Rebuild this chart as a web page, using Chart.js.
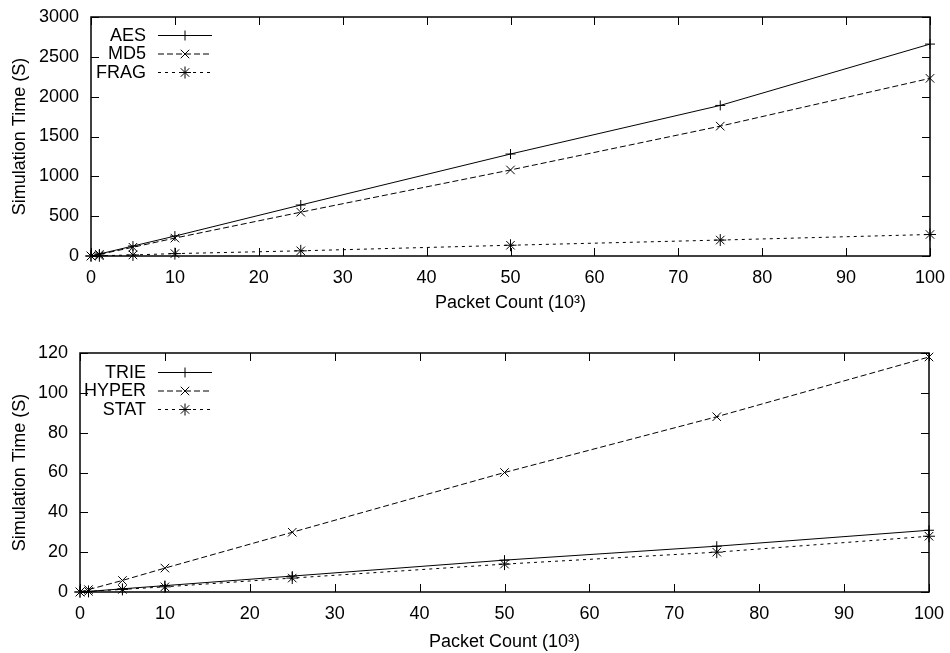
<!DOCTYPE html>
<html>
<head>
    <title>Simulation Time vs Packet Count</title>
    <style>
        body {
            margin: 0;
            background: #fff;
        }
        #wrap {
            position: relative;
            width: 950px;
            height: 653px;
        }
        canvas {
            position: absolute;
            left: 0;
        }
        #topChart { top: 0; }
        #bottomChart { top: 326px; }
    </style>
</head>
<body>
<div id="wrap">
    <canvas id="topChart" width="950" height="326"></canvas>
    <canvas id="bottomChart" width="950" height="327"></canvas>
</div>

<script src="https://cdn.jsdelivr.net/npm/chart.js"></script>

<script>
    // packet count in thousands
    const packets = [0, 1, 5, 10, 25, 50, 75, 100];

    // top plot (seconds)
    const aes  = [0, 25, 125, 250, 640, 1280, 1890, 2660];
    const md5  = [0, 20, 110, 225, 550, 1080, 1630, 2230];
    const frag = [0, 3, 13, 30, 65, 135, 200, 270];

    // bottom plot (seconds)
    const trie  = [0, 0.3, 1.6, 3.2, 8, 16, 23, 31];
    const hyper = [0, 1.2, 5.8, 12, 30, 60, 88, 118];
    const stat  = [0, 0.3, 1.3, 2.6, 7, 14, 20, 28];

    const FONT = { family: '"Liberation Sans", Arial, Helvetica, sans-serif', size: 18 };
    const TICK_LEN = 8;

    // gnuplot-like frame with inward ticks on all four sides
    const framePlugin = {
        id: 'frame',
        afterDatasetsDraw(chart) {
            const { ctx, chartArea: a, scales: { x, y } } = chart;
            ctx.save();
            ctx.strokeStyle = '#000';
            ctx.lineWidth = 1;
            ctx.beginPath();
            x.ticks.forEach(t => {
                const px = Math.round(x.getPixelForValue(t.value)) + 0.5;
                ctx.moveTo(px, a.bottom);
                ctx.lineTo(px, a.bottom - TICK_LEN);
                ctx.moveTo(px, a.top);
                ctx.lineTo(px, a.top + TICK_LEN);
            });
            y.ticks.forEach(t => {
                const py = Math.round(y.getPixelForValue(t.value)) + 0.5;
                ctx.moveTo(a.left, py);
                ctx.lineTo(a.left + TICK_LEN, py);
                ctx.moveTo(a.right, py);
                ctx.lineTo(a.right - TICK_LEN, py);
            });
            ctx.stroke();
            ctx.lineWidth = 1.5;
            ctx.strokeRect(a.left, a.top, a.right - a.left, a.bottom - a.top);
            ctx.restore();
        }
    };

    // key in the top-left corner: right-aligned label, then line sample with marker
    const keyPlugin = {
        id: 'key',
        afterDraw(chart, args, opts) {
            const ctx = chart.ctx;
            ctx.save();
            ctx.font = FONT.size + 'px ' + FONT.family;
            ctx.textAlign = 'right';
            ctx.textBaseline = 'middle';
            chart.data.datasets.forEach((ds, i) => {
                const yy = opts.top + i * opts.rowGap;
                ctx.fillStyle = '#000';
                ctx.fillText(ds.label, opts.textRight, yy + 1);
                ctx.strokeStyle = ds.borderColor;
                ctx.lineWidth = ds.borderWidth;
                ctx.setLineDash(ds.borderDash || []);
                ctx.beginPath();
                ctx.moveTo(opts.lineStart, yy + 0.5);
                ctx.lineTo(opts.lineEnd, yy + 0.5);
                ctx.stroke();
                ctx.setLineDash([]);
                ctx.lineWidth = 1;
                Chart.helpers.drawPoint(ctx, {
                    pointStyle: ds.pointStyle,
                    radius: ds.pointRadius,
                    borderWidth: 1
                }, (opts.lineStart + opts.lineEnd) / 2, yy + 0.5);
            });
            ctx.restore();
        }
    };

    function series(label, data, dash, marker, radius) {
        return {
            label: label,
            data: data.map((v, i) => ({ x: packets[i], y: v })),
            borderColor: '#000',
            backgroundColor: '#000',
            borderWidth: 1,
            borderDash: dash,
            pointStyle: marker,
            pointRadius: radius,
            pointBorderWidth: 1,
            pointBorderColor: '#000',
            fill: false,
            tension: 0,
            clip: false
        };
    }

    function makeChart(id, datasets, yMax, yStep, cfg) {
        return new Chart(document.getElementById(id), {
            type: 'line',
            data: { datasets: datasets },
            plugins: [framePlugin, keyPlugin],
            options: {
                responsive: false,
                animation: false,
                layout: { padding: { top: cfg.padTop, right: cfg.padRight, left: 0, bottom: 0 } },
                plugins: {
                    legend: { display: false },
                    tooltip: { enabled: false },
                    key: cfg.key
                },
                scales: {
                    x: {
                        type: 'linear',
                        min: 0,
                        max: 100,
                        ticks: { stepSize: 10, color: '#000', font: FONT, padding: 3, maxRotation: 0 },
                        grid: { display: false },
                        border: { display: false },
                        title: {
                            display: true,
                            text: 'Packet Count (10³)',
                            color: '#000',
                            font: FONT,
                            padding: { top: 0, bottom: cfg.xTitlePad }
                        },
                        afterFit: s => { s.height = cfg.xHeight; }
                    },
                    y: {
                        min: 0,
                        max: yMax,
                        ticks: {
                            stepSize: yStep, color: '#000', font: FONT, padding: cfg.yTickPad,
                            callback: v => String(v)
                        },
                        grid: { display: false },
                        border: { display: false },
                        title: {
                            display: true,
                            text: 'Simulation Time (S)',
                            color: '#000',
                            font: FONT,
                            padding: { top: 9, bottom: 0 }
                        },
                        afterFit: s => { s.width = cfg.yWidth; }
                    }
                }
            }
        });
    }

    makeChart('topChart', [
        series('AES', aes, [], 'cross', 5),
        series('MD5', md5, [6, 3], 'crossRot', 6),
        series('FRAG', frag, [3, 4], 'star', 6)
    ], 3000, 500, {
        padTop: 17, padRight: 20, yWidth: 91, xHeight: 70, xTitlePad: 12, yTickPad: 4,
        key: { top: 35, rowGap: 18.5, textRight: 146, lineStart: 158, lineEnd: 212 }
    });

    makeChart('bottomChart', [
        series('TRIE', trie, [], 'cross', 5),
        series('HYPER', hyper, [6, 3], 'crossRot', 6),
        series('STAT', stat, [3, 4], 'star', 6)
    ], 120, 20, {
        padTop: 27, padRight: 21, yWidth: 80, xHeight: 61, xTitlePad: 0, yTickPad: 4,
        key: { top: 46, rowGap: 18.5, textRight: 146, lineStart: 158, lineEnd: 212 }
    });
</script>
</body>
</html>
